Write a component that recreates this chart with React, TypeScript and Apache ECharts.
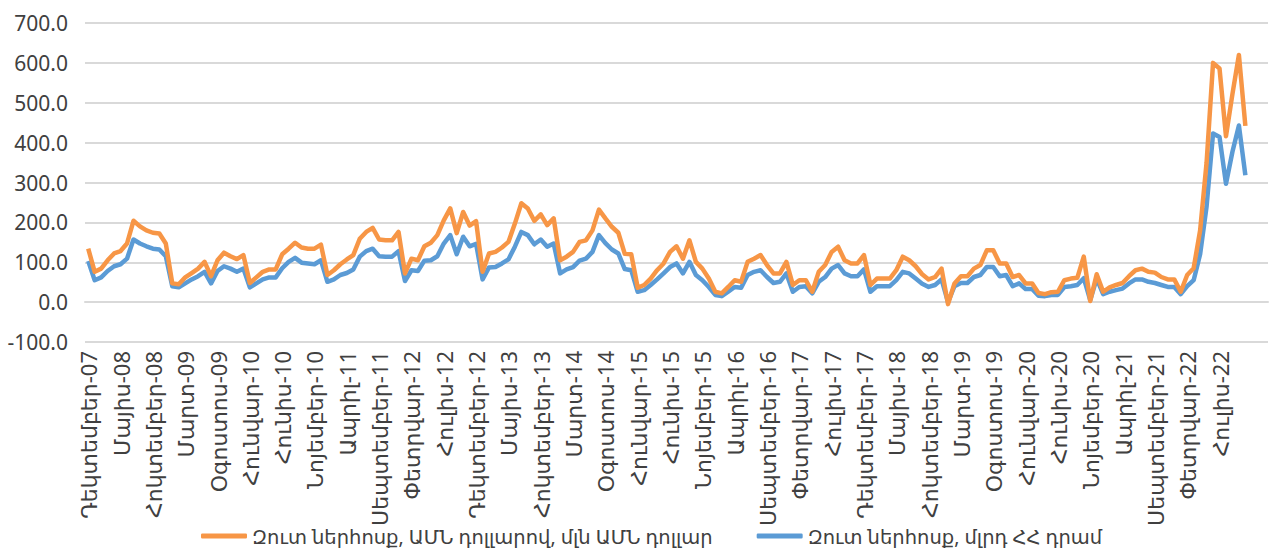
import React, { useEffect, useRef } from "react";
import * as echarts from "echarts";

const MONTHS = [
  "Հունվար", "Փետրվար", "Մարտ", "Ապրիլ", "Մայիս", "Հունիս",
  "Հուլիս", "Օգոստոս", "Սեպտեմբեր", "Հոկտեմբեր", "Նոյեմբեր", "Դեկտեմբեր",
];

// Monthly categories, December 2007 through February 2023 (last three empty)
const START_YEAR = 2007;
const START_MONTH = 11; // December
const CATEGORY_COUNT = 183;
const categories: string[] = [];
for (let k = 0; k < CATEGORY_COUNT; k++) {
  const m = (START_MONTH + k) % 12;
  const y = START_YEAR + Math.floor((START_MONTH + k) / 12);
  categories.push(MONTHS[m] + "-" + String(y % 100).padStart(2, "0"));
}
const LAST_LABEL_INDEX = 175;

const SERIES_USD_NAME = "Զուտ ներհոսք, ԱՄՆ դոլլարով, մլն ԱՄՆ դոլլար";
const SERIES_AMD_NAME = "Զուտ ներհոսք, մլրդ ՀՀ դրամ";

const usdValues: (number | null)[] = [
  134, 76, 84, 105, 122, 128, 147, 204, 190, 180, 174, 172, 147,
  47, 45, 62, 73, 84, 101, 65, 105, 124, 115, 108, 118,
  48, 62, 76, 82, 82, 120, 134, 149, 137, 134, 134, 144,
  68, 80, 95, 107, 118, 159, 176, 186, 157, 155, 155, 176,
  72, 109, 105, 140, 149, 168, 205, 235, 173, 226, 192, 203,
  76, 122, 126, 137, 151, 197, 248, 235, 204, 220, 193, 210,
  105, 114, 126, 151, 155, 180, 232, 210, 189, 174, 121, 120,
  36, 43, 59, 80, 97, 126, 140, 109, 155, 101, 84, 59,
  26, 22, 38, 55, 51, 101, 109, 118, 93, 72, 72, 101,
  43, 55, 55, 26, 76, 93, 126, 139, 105, 97, 97, 118,
  43, 59, 59, 59, 80, 114, 105, 90, 70, 57, 63, 84,
  -5, 47, 65, 65, 84, 93, 130, 130, 97, 97, 63, 68,
  47, 47, 23, 20, 25, 26, 55, 59, 61, 114, 3, 70,
  26, 37, 43, 48, 65, 80, 84, 76, 74, 63, 57, 57,
  26, 68, 85, 180, 350, 600, 586, 416, 522, 620, 442,
  null, null, null,
];

const amdValues: (number | null)[] = [
  103, 55, 62, 78, 90, 95, 109, 157, 147, 140, 134, 132, 115,
  40, 37, 47, 57, 65, 76, 47, 78, 90, 84, 76, 84,
  37, 47, 57, 62, 62, 85, 101, 111, 99, 97, 95, 105,
  51, 57, 68, 73, 82, 114, 128, 134, 115, 114, 114, 128,
  53, 80, 78, 104, 105, 115, 147, 168, 120, 164, 140, 146,
  57, 87, 88, 97, 107, 139, 176, 168, 145, 157, 139, 147,
  72, 82, 88, 104, 109, 126, 168, 148, 132, 122, 83, 80,
  26, 30, 43, 57, 72, 88, 97, 72, 101, 68, 55, 38,
  18, 15, 26, 38, 36, 68, 76, 80, 63, 48, 51, 72,
  26, 38, 40, 22, 51, 63, 84, 93, 72, 65, 65, 82,
  26, 40, 40, 40, 55, 76, 72, 59, 46, 38, 43, 57,
  0, 40, 48, 48, 63, 68, 88, 88, 65, 68, 40, 47,
  33, 33, 16, 15, 18, 18, 38, 40, 43, 60, 5, 59,
  20, 26, 30, 34, 47, 57, 57, 51, 48, 43, 38, 38,
  20, 40, 55, 120, 240, 423, 414, 297, 377, 443, 318,
  null, null, null,
];

const Y_MIN = -100;
const Y_MAX = 700;
const Y_STEP = 100;

const FONT = "'Noto Sans', 'DejaVu Sans', sans-serif";
const TEXT_COLOR = "#404040";
const GRID_COLOR = "#D9D9D9";
const ORANGE = "#F79646";
const BLUE = "#5B9BD5";

export default function App() {
  const ref = useRef<HTMLDivElement>(null);

  useEffect(() => {
    if (!ref.current) return;
    const chart = echarts.init(ref.current, undefined, { renderer: "svg" });
    chart.setOption({
      animation: false,
      textStyle: { fontFamily: FONT },
      grid: { left: 85, right: 6, top: 23, bottom: 206 },
      legend: {
        left: 196,
        top: 521,
        icon: "roundRect",
        itemWidth: 46,
        itemHeight: 5,
        itemGap: 44,
        data: [SERIES_USD_NAME, SERIES_AMD_NAME],
        textStyle: { fontFamily: FONT, fontSize: 19.5, color: TEXT_COLOR },
      },
      xAxis: {
        type: "category",
        data: categories,
        boundaryGap: true,
        axisLine: { onZero: true, lineStyle: { color: GRID_COLOR, width: 2 } },
        axisTick: { show: false },
        axisLabel: {
          rotate: 90,
          interval: (index: number) => index % 5 === 0 && index <= LAST_LABEL_INDEX,
          margin: 9,
          fontFamily: FONT,
          fontSize: 22,
          color: TEXT_COLOR,
        },
        splitLine: { show: false },
      },
      yAxis: {
        type: "value",
        min: Y_MIN,
        max: Y_MAX,
        interval: Y_STEP,
        axisLine: { show: false },
        axisTick: { show: false },
        axisLabel: {
          formatter: (v: number) => v.toFixed(1),
          margin: 17,
          fontFamily: FONT,
          fontSize: 21,
          color: TEXT_COLOR,
        },
        splitLine: { lineStyle: { color: GRID_COLOR, width: 2 } },
      },
      series: [
        {
          name: SERIES_AMD_NAME,
          type: "line",
          data: amdValues,
          symbol: "none",
          z: 2,
          lineStyle: { color: BLUE, width: 4.5, join: "round" },
          itemStyle: { color: BLUE },
        },
        {
          name: SERIES_USD_NAME,
          type: "line",
          data: usdValues,
          symbol: "none",
          z: 3,
          lineStyle: { color: ORANGE, width: 4.5, join: "round" },
          itemStyle: { color: ORANGE },
        },
      ],
    });
    return () => chart.dispose();
  }, []);

  return (
    <div
      ref={ref}
      style={{ position: "fixed", left: 0, top: 0, width: 1274, height: 548, background: "#fff" }}
    />
  );
}
